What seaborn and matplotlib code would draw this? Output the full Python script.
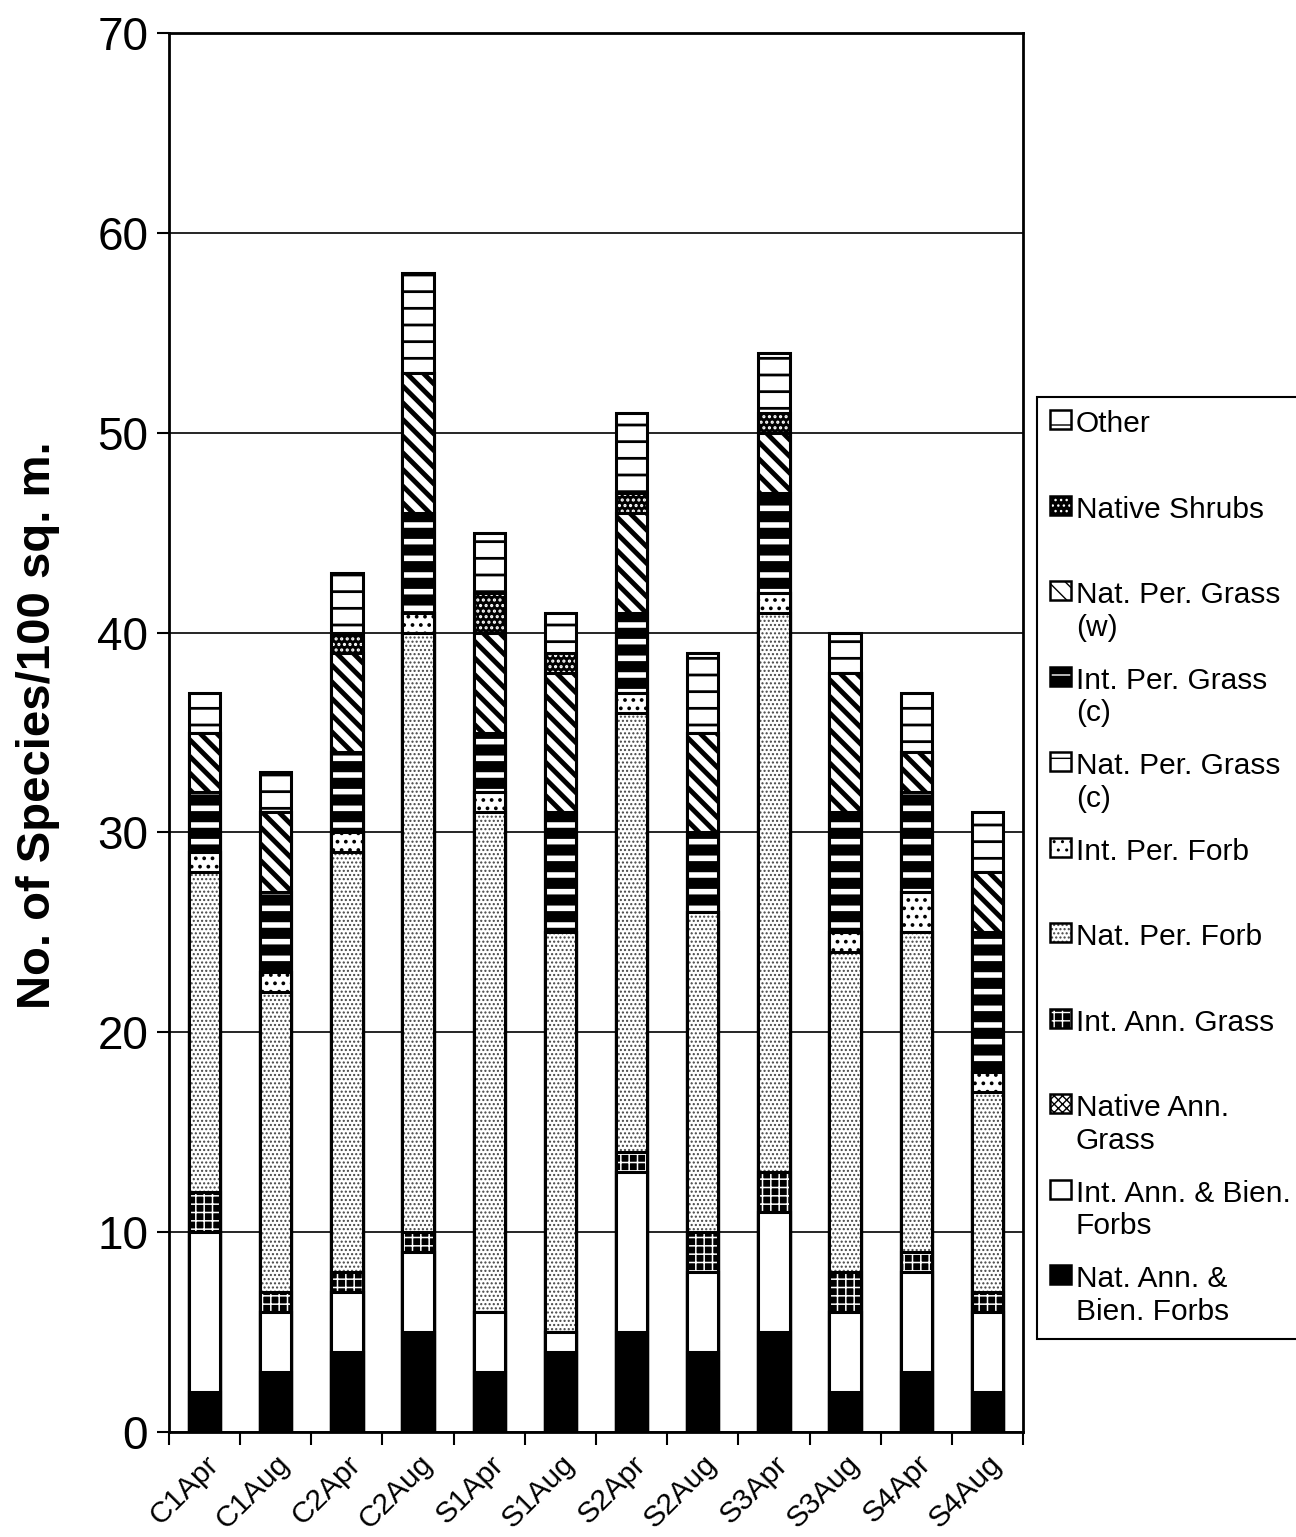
import numpy as np
import matplotlib
matplotlib.use("Agg")
import matplotlib.pyplot as plt
from matplotlib.patches import Patch
import seaborn as sns

# ---- data (species per 100 sq. m.) ----
categories = ['C1Apr', 'C1Aug', 'C2Apr', 'C2Aug', 'S1Apr', 'S1Aug',
              'S2Apr', 'S2Aug', 'S3Apr', 'S3Aug', 'S4Apr', 'S4Aug']

nat_ann_forbs = [2, 3, 4, 5, 3, 4, 5, 4, 5, 2, 3, 2]
int_ann_forbs = [8, 3, 3, 4, 3, 1, 8, 4, 6, 4, 5, 4]
native_ann_grass = [0, 0, 0, 0, 0, 0, 0, 0, 0, 0, 0, 0]
int_ann_grass = [2, 1, 1, 1, 0, 0, 1, 2, 2, 2, 1, 1]
nat_per_forb = [16, 15, 21, 30, 25, 20, 22, 16, 28, 16, 16, 10]
int_per_forb = [1, 1, 1, 1, 1, 0, 1, 0, 1, 1, 2, 1]
nat_per_grass_c = [0, 0, 0, 0, 0, 0, 0, 0, 0, 0, 0, 0]
int_per_grass_c = [3, 4, 4, 5, 3, 6, 4, 4, 5, 6, 5, 7]
nat_per_grass_w = [3, 4, 5, 7, 5, 7, 5, 5, 3, 7, 2, 3]
native_shrubs = [0, 0, 1, 0, 2, 1, 1, 0, 1, 0, 0, 0]
other = [2, 2, 3, 5, 3, 2, 4, 4, 3, 2, 3, 3]

# bottom -> top stacking order, with legend label
layers = [
    ("Nat. Ann. &\nBien. Forbs", nat_ann_forbs),
    ("Int. Ann. & Bien.\nForbs", int_ann_forbs),
    ("Native Ann.\nGrass", native_ann_grass),
    ("Int. Ann. Grass\n ", int_ann_grass),
    ("Nat. Per. Forb\n ", nat_per_forb),
    ("Int. Per. Forb\n ", int_per_forb),
    ("Nat. Per. Grass\n(c)", nat_per_grass_c),
    ("Int. Per. Grass\n(c)", int_per_grass_c),
    ("Nat. Per. Grass\n(w)", nat_per_grass_w),
    ("Native Shrubs\n ", native_shrubs),
    ("Other\n ", other),
]

# fill style per layer: face colour, hatch, hatch colour, hatch linewidth
styles = [
    ("black", None, "black", 1.0),
    ("white", None, "black", 1.0),
    ("white", "xxxx", "black", 1.0),
    ("black", "++", "white", 1.1),
    ("white", "....", "#444444", 1.0),
    ("white", "..", "black", 1.5),
    ("white", "-", "black", 2.0),
    ("black", "-", "white", 4.0),
    ("white", "\\\\", "black", 3.5),
    ("black", "...", "white", 1.5),
    ("white", "-", "black", 2.0),
]

sns.set_style("white")
plt.rcParams['font.family'] = ['Liberation Sans', 'DejaVu Sans']
plt.rcParams['text.color'] = 'black'
plt.rcParams['axes.labelcolor'] = 'black'
plt.rcParams['xtick.color'] = 'black'
plt.rcParams['ytick.color'] = 'black'

fig = plt.figure(figsize=(12.96, 15.37), dpi=100)
ax = fig.add_axes([169 / 1296, 1 - 1432 / 1537, 854 / 1296, 1399 / 1537])
ax.set_axisbelow(True)

cum = np.cumsum(np.array([v for _, v in layers]), axis=0)

# draw cumulative bars from top layer down so each lower layer covers the rest
for k in range(len(layers) - 1, -1, -1):
    face, hatch, hcol, hlw = styles[k]
    plt.rcParams['hatch.linewidth'] = hlw
    n0 = len(ax.patches)
    sns.barplot(x=categories, y=cum[k], order=categories, width=0.44,
                color=face, facecolor=face, edgecolor=hcol, hatch=hatch,
                linewidth=0, saturation=1, errorbar=None, ax=ax, zorder=2)
    for p in ax.patches[n0:]:
        if hasattr(p, "set_hatch_linewidth"):
            p.set_hatch_linewidth(hlw)
    sns.barplot(x=categories, y=cum[k], order=categories, width=0.44,
                color="black", facecolor="none", edgecolor="black",
                linewidth=2.2, saturation=1, errorbar=None, ax=ax, zorder=2)

handles = []
for k in range(len(layers) - 1, -1, -1):
    face, hatch, hcol, hlw = styles[k]
    plt.rcParams['hatch.linewidth'] = hlw
    hp = Patch(facecolor=face, edgecolor=hcol, hatch=hatch, linewidth=0)
    if hasattr(hp, "set_hatch_linewidth"):
        hp.set_hatch_linewidth(hlw)
    op = Patch(facecolor="none", edgecolor="black", linewidth=1.8)
    handles.append((hp, op))
labels = [layers[k][0] for k in range(len(layers) - 1, -1, -1)]

# axes styling
ax.set_xlim(-0.5, 11.5)
ax.set_ylim(0, 70)
ax.set_yticks(np.arange(0, 71, 10))
ax.yaxis.grid(True, color="black", linewidth=1.2)
ax.xaxis.grid(False)
for s in ax.spines.values():
    s.set_color("black")
    s.set_linewidth(2.0)
    s.set_visible(True)

ax.tick_params(axis="y", which="major", direction="out", length=9, width=1.5,
               labelsize=33, pad=6, left=True, colors="black")
ax.set_xticks(range(len(categories)))
ax.set_xticklabels(categories, rotation=45, ha="right", rotation_mode="anchor",
                   fontsize=21.5, color="black")
ax.tick_params(axis="x", which="major", length=0, pad=13)
ax.set_xticks(np.arange(-0.5, 12, 1), minor=True)
ax.tick_params(axis="x", which="minor", direction="out", length=9, width=1.5,
               bottom=True)
ax.set_xlabel("")
ax.set_ylabel("No. of Species/100 sq. m.", fontsize=34, fontweight="bold",
              color="black")
ax.yaxis.set_label_coords(-0.128, 0.505)

leg = fig.legend(handles, labels, loc="upper left",
                 bbox_to_anchor=(1037 / 1296, 1 - 397 / 1537),
                 fontsize=21.5, frameon=True, fancybox=False,
                 edgecolor="black", framealpha=1, borderaxespad=0,
                 borderpad=0.45, handlelength=0.7, handleheight=0.6,
                 handletextpad=0.15, labelspacing=0.84, labelcolor="black")
leg.get_frame().set_linewidth(1.5)
for col in leg._legend_handle_box.get_children():
    for item in col.get_children():
        item.align = "top"

fig.savefig("out.png", dpi=100)
